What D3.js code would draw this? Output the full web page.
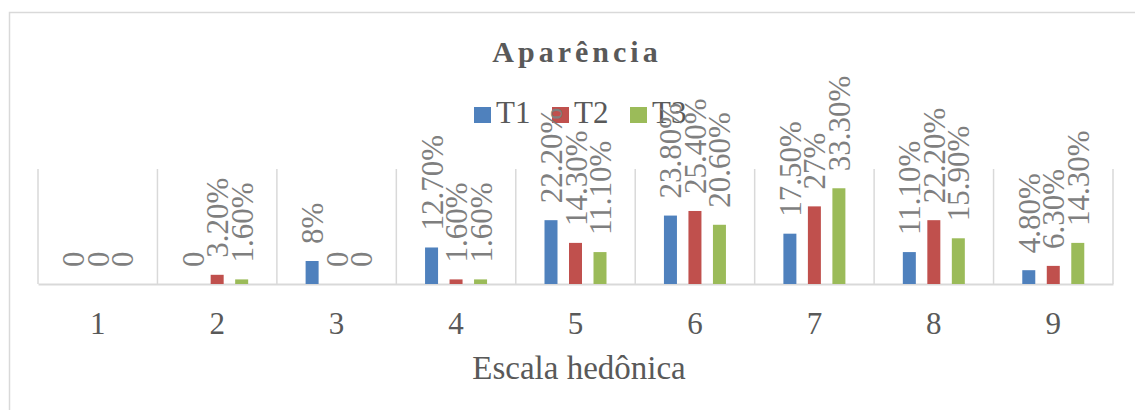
<!DOCTYPE html>
<html>
<head>
<meta charset="utf-8">
<script src="https://cdn.jsdelivr.net/npm/d3@7"></script>
<style>
  html, body { margin: 0; padding: 0; background: #ffffff; }
  svg { display: block; }
  text { font-family: "Liberation Serif", "Times New Roman", serif; }
</style>
</head>
<body>
<svg id="chart" width="1135" height="410"></svg>
<script>
// Hedonic scale categories and the share of answers per treatment (%)
const categories = ["1", "2", "3", "4", "5", "6", "7", "8", "9"];
const seriesNames = ["T1", "T2", "T3"];
const t1Values = [0, 0, 8, 12.7, 22.2, 23.8, 17.5, 11.1, 4.8];
const t2Values = [0, 3.2, 0, 1.6, 14.3, 25.4, 27, 22.2, 6.3];
const t3Values = [0, 1.6, 0, 1.6, 11.1, 20.6, 33.3, 15.9, 14.3];
const seriesColors = ["#4F81BD", "#C0504D", "#9BBB59"];
const chartTitle = "Aparência";
const axisTitle = "Escala hedônica";

const seriesValues = [t1Values, t2Values, t3Values];

const svg = d3.select("#chart");

// Outer chart frame
svg.append("rect")
  .attr("x", 9.5).attr("y", 12.5)
  .attr("width", 1140).attr("height", 420)
  .attr("fill", "#ffffff")
  .attr("stroke", "#d9d9d9").attr("stroke-width", 1.5);

// Plot area
const plot = { left: 38, right: 1113, top: 169, bottom: 284 };

const x0 = d3.scaleBand()
  .domain(categories)
  .range([plot.left, plot.right])
  .padding(0);

const groupHalf = 36.75;
const x1 = d3.scaleBand()
  .domain(seriesNames)
  .range([-groupHalf, groupHalf]);
const barWidth = 13;

const y = d3.scaleLinear()
  .domain([0, 40])
  .range([plot.bottom, plot.top]);

// Vertical category separators
const boundaries = categories.map(c => x0(c)).concat([plot.right]);
svg.append("g")
  .selectAll("line")
  .data(boundaries)
  .join("line")
  .attr("x1", d => d).attr("x2", d => d)
  .attr("y1", plot.top).attr("y2", plot.bottom)
  .attr("stroke", "#d9d9d9").attr("stroke-width", 1.5);

// Category axis
const xAxis = d3.axisBottom(x0).tickSize(0).tickPadding(28);
const axisG = svg.append("g")
  .attr("transform", `translate(0,${plot.bottom})`)
  .call(xAxis);
axisG.select(".domain").attr("stroke", "#d9d9d9").attr("stroke-width", 2);
axisG.selectAll("text")
  .attr("fill", "#595959")
  .attr("font-size", 31)
  .attr("font-family", "'Liberation Serif', 'Times New Roman', serif");

// Bars
const rows = [];
categories.forEach((c, ci) => {
  seriesNames.forEach((s, si) => {
    rows.push({ cat: c, series: s, si: si, value: seriesValues[si][ci] });
  });
});

const cx = d => x0(d.cat) + x0.bandwidth() / 2 + x1(d.series) + x1.bandwidth() / 2;

svg.append("g")
  .selectAll("rect")
  .data(rows)
  .join("rect")
  .attr("x", d => cx(d) - barWidth / 2)
  .attr("y", d => y(d.value))
  .attr("width", barWidth)
  .attr("height", d => y(0) - y(d.value))
  .attr("fill", d => seriesColors[d.si]);

// Title
svg.append("text")
  .attr("x", 577)
  .attr("y", 62)
  .attr("text-anchor", "middle")
  .attr("font-size", 30)
  .attr("font-weight", "bold")
  .attr("letter-spacing", 4)
  .attr("fill", "#595959")
  .text(chartTitle);

// Legend
const legendX = [474, 552, 630];
const legend = svg.append("g")
  .selectAll("g")
  .data(seriesNames)
  .join("g")
  .attr("transform", (d, i) => `translate(${legendX[i]},0)`);
legend.append("rect")
  .attr("x", 0).attr("y", 107)
  .attr("width", 17).attr("height", 16)
  .attr("fill", (d, i) => seriesColors[i]);
legend.append("text")
  .attr("x", 22).attr("y", 123)
  .attr("font-size", 31)
  .attr("fill", "#595959")
  .text(d => d);

// Data labels, rotated
const fmt = v => v === 0 ? "0" : (Number.isInteger(v) ? `${v}%` : `${v.toFixed(2)}%`);
svg.append("g")
  .selectAll("text")
  .data(rows)
  .join("text")
  .attr("transform", d => `translate(${cx(d) + 11},${y(d.value) - 17}) rotate(-90)`)
  .attr("text-anchor", "start")
  .attr("font-size", 31)
  .attr("fill", "#7f7f7f")
  .text(d => fmt(d.value));

// Axis title
svg.append("text")
  .attr("x", 579)
  .attr("y", 379)
  .attr("text-anchor", "middle")
  .attr("font-size", 33)
  .attr("fill", "#595959")
  .text(axisTitle);
</script>
</body>
</html>
